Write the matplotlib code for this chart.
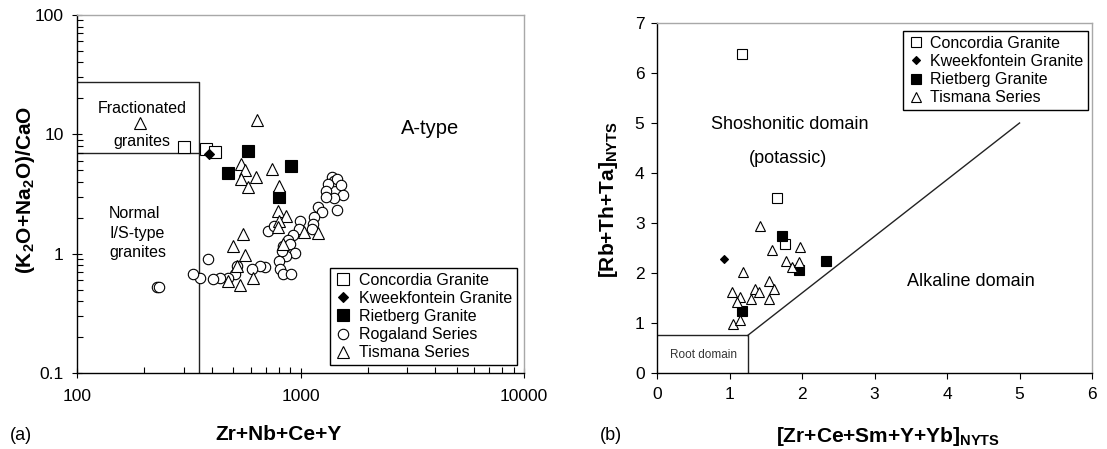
import numpy as np
import matplotlib
matplotlib.use('Agg')
import matplotlib.pyplot as plt
from matplotlib import ticker

plt.rcParams['font.family'] = ['Liberation Sans', 'DejaVu Sans']

# ---- panel (a): Zr+Nb+Ce+Y vs (K2O+Na2O)/CaO ----
conc_a_x = [300, 378, 414]
conc_a_y = [7.9, 7.6, 7.05]
kwe_a_x = [390]
kwe_a_y = [6.9]
riet_a_x = [474, 582, 906, 801]
riet_a_y = [4.7, 7.3, 5.4, 2.96]
rog_a_x = [1379, 1413, 1452, 1332, 1513, 1554, 1413, 1452, 1300, 1297, 1202, 1244,
           1153, 1134, 1122, 995, 988, 929, 877, 838, 898, 945, 861, 801, 718, 764,
           694, 659, 809, 838, 907, 605, 518, 509, 475, 436, 407, 387, 355, 329,
           228, 232, 826]
rog_a_y = [4.38, 4.10, 4.24, 3.85, 3.73, 3.13, 2.94, 2.33, 3.38, 2.97, 2.45, 2.22,
           2.02, 1.78, 1.61, 1.89, 1.61, 1.42, 1.29, 1.17, 1.21, 1.01, 0.96, 0.86, 1.56, 1.69,
           0.77, 0.79, 0.74, 0.68, 0.68, 0.74, 0.79, 0.67, 0.63, 0.62, 0.61, 0.90, 0.62, 0.68,
           0.53, 0.53, 1.06]
tis_a_x = [191, 638, 540, 565, 540, 632, 581, 745, 803, 790, 858, 805, 790, 1037,
           1194, 550, 500, 565, 521, 475, 536, 615, 837]
tis_a_y = [12.4, 13.1, 5.6, 5.05, 4.25, 4.4, 3.6, 5.1, 3.66, 2.27, 2.05, 1.89, 1.66, 1.52,
           1.49, 1.45, 1.15, 0.98, 0.79, 0.59, 0.55, 0.63, 1.2]

# field boundaries (a)
frac_x = [100, 350, 350]
frac_top_y = [27.5, 27.5, 0.1]
frac_low_x = [100, 350]
frac_low_y = [7, 7]

# ---- panel (b): [Zr+Ce+Sm+Y+Yb] vs [Rb+Th+Ta] ----
conc_b_x = [1.17, 1.65, 1.76]
conc_b_y = [6.38, 3.49, 2.57]
kwe_b_x = [0.92]
kwe_b_y = [2.28]
riet_b_x = [1.73, 1.96, 2.33, 1.17]
riet_b_y = [2.73, 2.06, 2.23, 1.24]
tis_b_x = [1.42, 1.58, 1.97, 1.78, 1.86, 1.96, 1.19, 1.55, 1.61, 1.35, 1.41, 1.30,
           1.54, 1.03, 1.14, 1.11, 1.05, 1.14]
tis_b_y = [2.94, 2.45, 2.51, 2.23, 2.11, 2.21, 2.01, 1.84, 1.67, 1.67, 1.61, 1.48,
           1.47, 1.61, 1.51, 1.41, 0.98, 1.05]

root_x = [0, 1.25, 1.25]
root_y = [0.75, 0.75, 0]
alk_x = [1.25, 5.0]
alk_y = [0.75, 5.0]

fig = plt.figure(figsize=(11.07, 4.49), dpi=100)
ax1 = fig.add_axes([0.0696, 0.1693, 0.4038, 0.7973])
ax2 = fig.add_axes([0.5935, 0.1693, 0.3930, 0.7795])

open_kw = dict(linestyle='none', markerfacecolor='white', markeredgecolor='black',
               markeredgewidth=0.8)
fill_kw = dict(linestyle='none', color='black', markeredgewidth=0.8)

# panel (a)
ax1.plot(frac_x, frac_top_y, color='#222222', lw=1, zorder=1)
ax1.plot(frac_low_x, frac_low_y, color='#222222', lw=1, zorder=1)
ax1.plot(conc_a_x, conc_a_y, marker='s', ms=8, label='Concordia Granite', **open_kw)
ax1.plot(kwe_a_x, kwe_a_y, marker='D', ms=5, label='Kweekfontein Granite', **fill_kw)
ax1.plot(riet_a_x, riet_a_y, marker='s', ms=8, label='Rietberg Granite', **fill_kw)
ax1.plot(rog_a_x, rog_a_y, marker='o', ms=7.5, label='Rogaland Series', **open_kw)
ax1.plot(tis_a_x, tis_a_y, marker='^', ms=8, label='Tismana Series', **open_kw)

ax1.set_xscale('log')
ax1.set_yscale('log')
ax1.set_xlim(100, 10000)
ax1.set_ylim(0.1, 100)
fmt = ticker.FuncFormatter(lambda v, _: f'{v:g}')
ax1.xaxis.set_major_formatter(fmt)
ax1.yaxis.set_major_formatter(fmt)
ax1.xaxis.set_minor_formatter(ticker.NullFormatter())
ax1.yaxis.set_minor_formatter(ticker.NullFormatter())
ax1.tick_params(which='major', direction='inout', length=7, width=0.8, labelsize=12.5)
ax1.tick_params(axis='x', which='major', pad=8)
ax1.tick_params(axis='y', which='major', pad=6)
ax1.tick_params(which='minor', direction='in', length=4, width=0.8)

ax1.text(0.145, 0.738, 'Fractionated', transform=ax1.transAxes, ha='center', va='center', fontsize=11.5)
ax1.text(0.145, 0.648, 'granites', transform=ax1.transAxes, ha='center', va='center', fontsize=11.5)
ax1.text(0.072, 0.391, 'Normal\nI/S-type\ngranites', transform=ax1.transAxes,
         ha='left', va='center', fontsize=11.5, linespacing=1.4)
ax1.text(0.79, 0.684, 'A-type', transform=ax1.transAxes, ha='center', va='center', fontsize=14.5)

ax1.set_xlabel('Zr+Nb+Ce+Y', fontsize=15, fontweight='bold')
ax1.xaxis.set_label_coords(0.45, -0.145)
ax1.set_ylabel('(K$_\\mathregular{2}$O+Na$_\\mathregular{2}$O)/CaO', fontsize=15, fontweight='bold')
ax1.yaxis.set_label_coords(-0.09, 0.51)

leg1 = ax1.legend(loc='lower right', bbox_to_anchor=(0.984, 0.022), borderaxespad=0,
                  fontsize=11.5, numpoints=1, handlelength=1.0, handletextpad=0.5,
                  labelspacing=0.2, borderpad=0.3, fancybox=False, framealpha=1)
leg1.get_frame().set_edgecolor('black')
leg1.get_frame().set_linewidth(1)

# panel (b)
ax2.plot(root_x, root_y, color='#222222', lw=1, zorder=1)
ax2.plot(alk_x, alk_y, color='#222222', lw=1, zorder=1)
ax2.plot(conc_b_x, conc_b_y, marker='s', ms=7.5, label='Concordia Granite', **open_kw)
ax2.plot(kwe_b_x, kwe_b_y, marker='D', ms=4.5, label='Kweekfontein Granite', **fill_kw)
ax2.plot(riet_b_x, riet_b_y, marker='s', ms=7.5, label='Rietberg Granite', **fill_kw)
ax2.plot(tis_b_x, tis_b_y, marker='^', ms=7.5, label='Tismana Series', **open_kw)

ax2.set_xlim(0, 6)
ax2.set_ylim(0, 7)
ax2.set_xticks(range(0, 7))
ax2.set_yticks(range(0, 8))
ax2.tick_params(direction='out', length=4, width=0.8, labelsize=12.5)
ax2.tick_params(axis='x', pad=6)
ax2.tick_params(axis='y', pad=5)

ax2.text(0.306, 0.711, 'Shoshonitic domain', transform=ax2.transAxes, ha='center', va='center', fontsize=13)
ax2.text(0.300, 0.614, '(potassic)', transform=ax2.transAxes, ha='center', va='center', fontsize=13)
ax2.text(0.722, 0.26, 'Alkaline domain', transform=ax2.transAxes, ha='center', va='center', fontsize=13)
ax2.text(0.108, 0.051, 'Root domain', transform=ax2.transAxes, ha='center', va='center',
         fontsize=8.5, color='#333333')

ax2.set_xlabel('[Zr+Ce+Sm+Y+Yb]$_\\mathregular{NYTS}$', fontsize=15, fontweight='bold')
ax2.xaxis.set_label_coords(0.53, -0.15)
ax2.set_ylabel('[Rb+Th+Ta]$_\\mathregular{NYTS}$', fontsize=15, fontweight='bold')
ax2.yaxis.set_label_coords(-0.085, 0.494)

leg2 = ax2.legend(loc='upper right', bbox_to_anchor=(0.991, 0.977), borderaxespad=0,
                  fontsize=11.5, numpoints=1, handlelength=1.0, handletextpad=0.4,
                  labelspacing=0.2, borderpad=0.3, fancybox=False, framealpha=1)
leg2.get_frame().set_edgecolor('black')
leg2.get_frame().set_linewidth(1)

for ax in (ax1, ax2):
    for s in ('top', 'right'):
        ax.spines[s].set_color('#a8a8a8')
        ax.spines[s].set_linewidth(1)
    for s in ('left', 'bottom'):
        ax.spines[s].set_color('black')
        ax.spines[s].set_linewidth(1)

fig.text(10 / 1107, 1 - 435 / 449, '(a)', ha='left', va='center', fontsize=13)
fig.text(600 / 1107, 1 - 435 / 449, '(b)', ha='left', va='center', fontsize=13)

fig.savefig('out.png', dpi=100)
